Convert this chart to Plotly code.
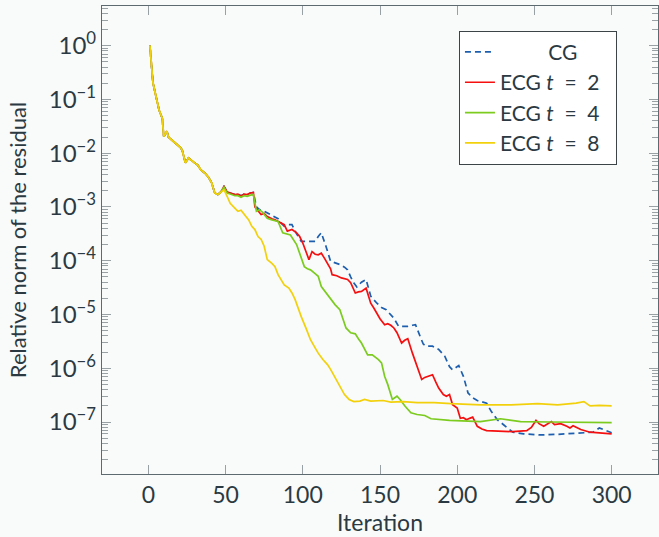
import plotly.graph_objects as go

# ---- data ----
early_iter = [1, 3, 5, 7, 9, 10, 12, 13, 15, 18, 21, 22, 24, 26, 28, 30, 32, 34, 37, 39, 41, 43, 45, 47]
early_res = [1.0, 2.04e-1, 1.12e-1, 6.3e-2, 4.47e-2, 2.04e-2, 2.57e-2, 2.0e-2, 1.78e-2, 1.51e-2,
             1.26e-2, 1.12e-2, 6.61e-3, 8.13e-3, 7.24e-3, 6.61e-3, 6.03e-3, 4.9e-3, 4.17e-3, 3.55e-3,
             2.82e-3, 1.82e-3, 1.7e-3, 1.91e-3]

cg_iter = [49, 51, 53, 56, 58, 60, 62, 64, 66, 68, 70, 72, 75, 77, 80, 84, 86, 88, 91, 93, 96, 99, 104,
           108, 110, 112, 115, 118, 121, 124, 127, 129, 131, 133, 135, 138, 141, 144, 148, 151, 154, 157,
           159, 162, 165, 168, 171, 173, 176, 178, 180, 184, 188, 192, 195, 197, 201, 204, 207, 210, 213,
           216, 219, 222, 226, 230, 233, 236, 243, 254, 265, 273, 282, 288, 292, 295, 300]
cg_res = [2.4e-3, 1.91e-3, 1.82e-3, 1.7e-3, 1.74e-3, 1.62e-3, 1.74e-3, 1.7e-3, 1.82e-3, 1.86e-3,
          1.0e-3, 8.91e-4, 8.32e-4, 7.76e-4, 7.08e-4, 6.03e-4, 5.01e-4, 4.37e-4, 4.68e-4, 4.68e-4,
          3.16e-4, 2.29e-4, 2.29e-4, 2.29e-4, 2.82e-4, 3.31e-4, 1.86e-4, 9.77e-5, 9.12e-5, 8.51e-5,
          7.59e-5, 6.76e-5, 5.01e-5, 3.89e-5, 3.24e-5, 3.98e-5, 4.47e-5, 2.19e-5, 1.62e-5, 1.35e-5,
          1.23e-5, 1.0e-5, 8.51e-6, 6.03e-6, 6.03e-6, 6.03e-6, 6.31e-6, 6.46e-6, 3.89e-6, 2.82e-6,
          2.57e-6, 2.57e-6, 2.24e-6, 1.66e-6, 1.07e-6, 9.33e-7, 1.12e-6, 7.08e-7, 3.47e-7, 2.82e-7,
          2.51e-7, 2.4e-7, 2.24e-7, 1.58e-7, 1.1e-7, 8.91e-8, 7.59e-8, 6.46e-8, 6.03e-8, 5.75e-8,
          5.89e-8, 6.03e-8, 6.31e-8, 6.46e-8, 7.76e-8, 7.24e-8, 6.31e-8]

t2_iter = [49, 51, 53, 56, 58, 60, 62, 64, 66, 68, 69, 71, 73, 75, 77, 80, 82, 86, 88, 90, 93, 96, 98,
           100, 102, 104, 106, 108, 110, 112, 114, 116, 118, 119, 122, 125, 127, 129, 131, 134, 136, 138,
           141, 144, 146, 148, 150, 153, 155, 157, 159, 161, 164, 166, 168, 171, 174, 177, 179, 181, 184,
           186, 188, 191, 193, 195, 197, 200, 202, 204, 206, 208, 210, 213, 216, 219, 225, 236, 245, 248,
           251, 253, 256, 259, 261, 263, 267, 271, 273, 275, 278, 280, 286, 293, 300]
t2_res = [2.4e-3, 1.91e-3, 1.82e-3, 1.7e-3, 1.74e-3, 1.58e-3, 1.74e-3, 1.7e-3, 1.82e-3, 1.86e-3,
          1.0e-3, 8.32e-4, 7.24e-4, 7.59e-4, 6.61e-4, 6.03e-4, 5.75e-4, 5.01e-4, 4.68e-4, 3.55e-4,
          3.8e-4, 3.31e-4, 2.82e-4, 2.14e-4, 1.51e-4, 1.05e-4, 1.48e-4, 1.32e-4, 1.29e-4, 1.38e-4,
          1.12e-4, 9.12e-5, 7.08e-5, 5.5e-5, 5.25e-5, 4.79e-5, 4.68e-5, 4.47e-5, 3.89e-5, 2.51e-5,
          2.63e-5, 2.69e-5, 3.09e-5, 1.62e-5, 1.32e-5, 1.07e-5, 8.32e-6, 6.46e-6, 6.76e-6, 6.31e-6,
          5.62e-6, 4.57e-6, 2.95e-6, 3.31e-6, 3.55e-6, 1.91e-6, 1.12e-6, 6.17e-7, 6.76e-7, 7.08e-7,
          7.59e-7, 5.62e-7, 4.27e-7, 3.24e-7, 3.02e-7, 3.24e-7, 2.09e-7, 1.82e-7, 1.17e-7, 1.2e-7,
          1.1e-7, 1.17e-7, 1.23e-7, 8.32e-8, 7.41e-8, 6.92e-8, 6.76e-8, 6.61e-8, 6.92e-8, 7.94e-8,
          1.07e-7, 9.33e-8, 8.32e-8, 9.33e-8, 1.02e-7, 8.91e-8, 9.33e-8, 8.32e-8, 7.76e-8, 8.51e-8,
          7.59e-8, 7.24e-8, 6.46e-8, 6.31e-8, 6.03e-8]

t4_iter = [49, 51, 53, 56, 58, 60, 62, 64, 66, 68, 70, 72, 74, 77, 80, 84, 87, 90, 92, 96, 98, 101, 103,
           105, 108, 110, 112, 115, 118, 121, 124, 126, 128, 131, 134, 136, 138, 142, 145, 149, 151, 153,
           155, 158, 161, 163, 166, 170, 174, 179, 183, 195, 204, 215, 228, 241, 260, 280, 300]
t4_res = [2.34e-3, 1.82e-3, 1.74e-3, 1.62e-3, 1.62e-3, 1.51e-3, 1.62e-3, 1.58e-3, 1.66e-3, 1.7e-3,
          8.32e-4, 8.91e-4, 7.94e-4, 6.17e-4, 5.75e-4, 5.37e-4, 3.31e-4, 3.16e-4, 3.02e-4, 2.0e-4,
          1.41e-4, 7.76e-5, 7.08e-5, 6.76e-5, 5.75e-5, 5.13e-5, 3.31e-5, 2.51e-5, 1.91e-5, 1.51e-5,
          1.23e-5, 8.32e-6, 5.62e-6, 4.57e-6, 4.37e-6, 3.55e-6, 2.95e-6, 1.78e-6, 1.78e-6, 1.45e-6,
          1.26e-6, 7.08e-7, 5.01e-7, 2.63e-7, 3.02e-7, 2.63e-7, 2.0e-7, 1.48e-7, 1.38e-7, 1.32e-7,
          1.15e-7, 1.07e-7, 1.05e-7, 1.02e-7, 1.15e-7, 1.02e-7, 1.0e-7, 9.77e-8, 9.77e-8]

t8_iter = [49, 51, 53, 56, 58, 60, 62, 65, 67, 69, 71, 73, 75, 77, 80, 82, 84, 86, 88, 91, 93, 95, 97,
           99, 102, 105, 108, 110, 113, 116, 118, 120, 122, 124, 127, 130, 133, 137, 140, 144, 148, 152,
           157, 165, 174, 185, 196, 215, 235, 252, 265, 277, 282, 286, 292, 300]
t8_res = [2.09e-3, 1.58e-3, 1.17e-3, 9.55e-4, 8.32e-4, 8.71e-4, 7.24e-4, 5.75e-4, 4.37e-4, 3.8e-4,
          2.82e-4, 2.51e-4, 1.86e-4, 1.05e-4, 8.91e-5, 7.76e-5, 5.5e-5, 4.47e-5, 3.55e-5, 3.09e-5,
          2.51e-5, 1.91e-5, 1.26e-5, 9.12e-6, 5.62e-6, 3.39e-6, 2.4e-6, 1.91e-6, 1.45e-6, 1.17e-6,
          9.55e-7, 7.59e-7, 6.03e-7, 4.57e-7, 3.24e-7, 2.63e-7, 2.4e-7, 2.45e-7, 2.63e-7, 2.45e-7,
          2.45e-7, 2.51e-7, 2.34e-7, 2.4e-7, 2.29e-7, 2.29e-7, 2.19e-7, 2.09e-7, 2.09e-7, 2.19e-7,
          2.09e-7, 2.24e-7, 2.4e-7, 2.0e-7, 2.04e-7, 2.0e-7]

NB = "\u00a0"
series_names = [NB * 9 + "CG",
                "ECG" + NB + "<i>t</i>" + NB * 2 + "=" + NB * 2 + "2" + NB * 2,
                "ECG" + NB + "<i>t</i>" + NB * 2 + "=" + NB * 2 + "4" + NB * 2,
                "ECG" + NB + "<i>t</i>" + NB * 2 + "=" + NB * 2 + "8" + NB * 2]
series_iters = [cg_iter, t2_iter, t4_iter, t8_iter]
series_res = [cg_res, t2_res, t4_res, t8_res]
series_colors = ["#1d5fae", "#f50f0f", "#7ccb1f", "#f2d10c"]
series_dash = ["6px,4px", "solid", "solid", "solid"]

y_exponents = [0, -1, -2, -3, -4, -5, -6, -7]
x_ticks = [0, 50, 100, 150, 200, 250, 300]

FONT = "Lato"
TEXT = "#2b3a42"
AXIS = "#5d6a6f"
TICK = "#9aa1a4"
BG = "#f9fafa"

fig = go.Figure()
for name, it, res, col, dash in zip(series_names, series_iters, series_res, series_colors, series_dash):
    fig.add_trace(go.Scatter(
        x=early_iter + it, y=early_res + res, mode="lines", name=name,
        line=dict(color=col, width=1.7, dash=dash),
    ))

minor_vals = [m * 10.0 ** e for e in range(-8, 1) for m in range(2, 10)]

fig.update_layout(
    width=659, height=537,
    margin=dict(l=102, r=1, t=6, b=63),
    paper_bgcolor=BG, plot_bgcolor=BG,
    font=dict(family=FONT, color=TEXT, size=23),
    showlegend=True,
    legend=dict(
        x=0.642, y=0.947, xanchor="left", yanchor="top",
        bgcolor="#ffffff", bordercolor="#3c4448", borderwidth=1,
        font=dict(family=FONT, size=21, color=TEXT),
        traceorder="normal",
    ),
    xaxis=dict(
        range=[-30, 330], tickvals=x_ticks, ticktext=[str(v) for v in x_ticks],
        showline=True, linecolor=AXIS, linewidth=1.3, mirror="allticks",
        ticks="inside", ticklen=9, tickcolor=TICK, tickwidth=1.3,
        showgrid=False, zeroline=False,
        title=dict(text="Iteration", font=dict(size=23), standoff=8),
        tickfont=dict(size=23),
    ),
    yaxis=dict(
        type="log", range=[-7.967, 0.738],
        tickvals=[10.0 ** e for e in y_exponents],
        ticktext=["10<sup>%s</sup>" % (str(e).replace("-", "\u2212")) for e in y_exponents],
        showline=True, linecolor=AXIS, linewidth=1.3, mirror="allticks",
        ticks="inside", ticklen=9, tickcolor=TICK, tickwidth=1.3,
        showgrid=False, zeroline=False,
        minor=dict(tickvals=minor_vals, ticks="inside", ticklen=6, tickcolor=TICK, tickwidth=1.3, showgrid=False),
        title=dict(text="Relative norm of the residual", font=dict(size=22), standoff=16),
        tickfont=dict(size=24),
    ),
)

fig.write_html("out.html")
